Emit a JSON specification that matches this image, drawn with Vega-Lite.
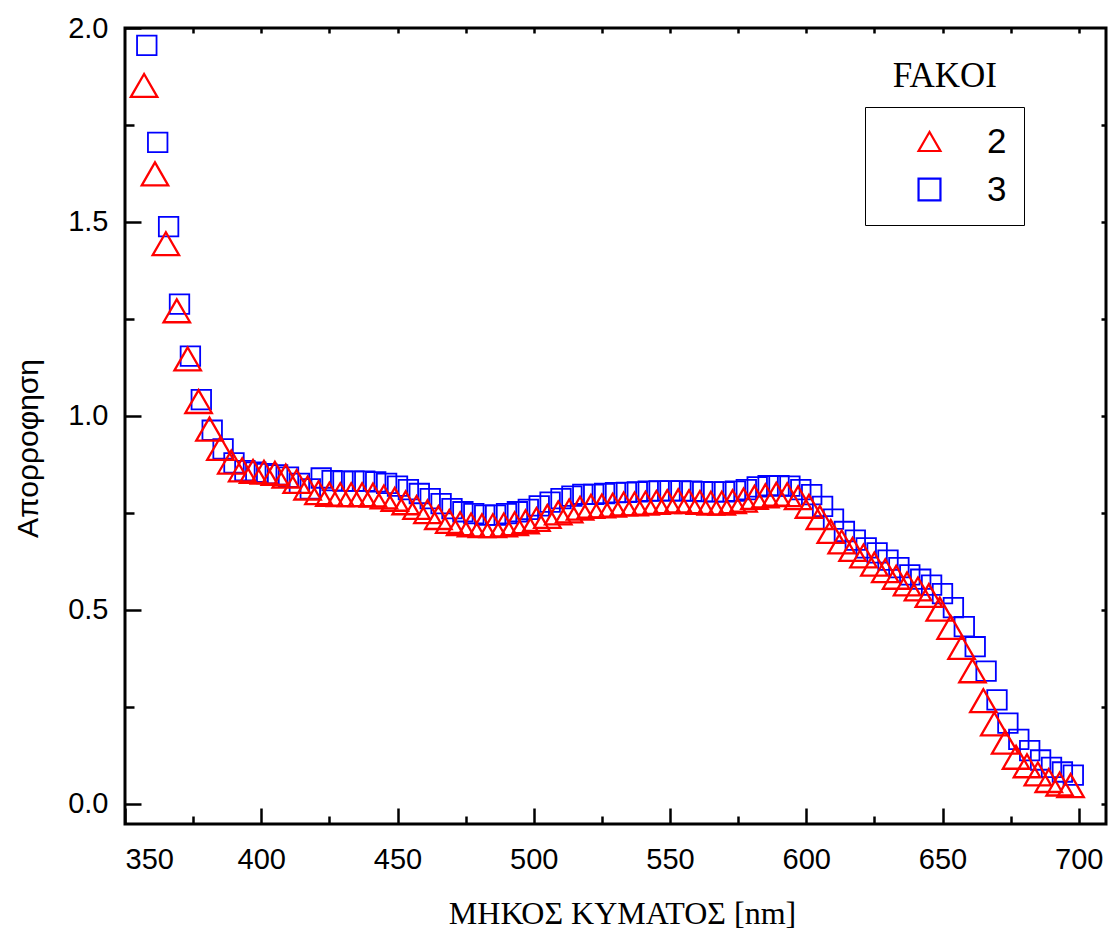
{
  "$schema": "https://vega.github.io/schema/vega-lite/v6.json",
  "width": 981,
  "height": 796,
  "autosize": {"type": "none"},
  "padding": {"left": 125, "top": 28, "right": 5, "bottom": 110},
  "background": "white",
  "title": {"text": "FAKOI", "anchor": "end", "frame": "group", "font": "Liberation Serif", "fontSize": 35, "fontWeight": "normal", "color": "black", "offset": 0, "baseline": "alphabetic", "dx": -109, "dy": 108},
  "config": {
    "view": {"stroke": "black", "strokeWidth": 3},
    "axis": {"domain": false, "grid": false, "tickColor": "black", "tickWidth": 2.5, "tickOpacity": 1, "labelColor": "black", "titleColor": "black"}
  },
  "data": {"values": [
    {"wl": 357, "abs": 1.852, "fakoi": "2"}, {"wl": 361, "abs": 1.624, "fakoi": "2"}, {"wl": 365, "abs": 1.444, "fakoi": "2"}, {"wl": 369, "abs": 1.271, "fakoi": "2"},
    {"wl": 373, "abs": 1.147, "fakoi": "2"}, {"wl": 377, "abs": 1.037, "fakoi": "2"}, {"wl": 381, "abs": 0.966, "fakoi": "2"}, {"wl": 385, "abs": 0.916, "fakoi": "2"},
    {"wl": 389, "abs": 0.881, "fakoi": "2"}, {"wl": 393, "abs": 0.861, "fakoi": "2"}, {"wl": 397, "abs": 0.857, "fakoi": "2"}, {"wl": 401, "abs": 0.855, "fakoi": "2"},
    {"wl": 405, "abs": 0.852, "fakoi": "2"}, {"wl": 409, "abs": 0.845, "fakoi": "2"}, {"wl": 413, "abs": 0.831, "fakoi": "2"}, {"wl": 417, "abs": 0.814, "fakoi": "2"},
    {"wl": 421, "abs": 0.802, "fakoi": "2"}, {"wl": 425, "abs": 0.798, "fakoi": "2"}, {"wl": 429, "abs": 0.797, "fakoi": "2"}, {"wl": 433, "abs": 0.797, "fakoi": "2"},
    {"wl": 437, "abs": 0.797, "fakoi": "2"}, {"wl": 441, "abs": 0.796, "fakoi": "2"}, {"wl": 445, "abs": 0.791, "fakoi": "2"}, {"wl": 449, "abs": 0.785, "fakoi": "2"},
    {"wl": 453, "abs": 0.776, "fakoi": "2"}, {"wl": 457, "abs": 0.764, "fakoi": "2"}, {"wl": 461, "abs": 0.753, "fakoi": "2"}, {"wl": 465, "abs": 0.738, "fakoi": "2"},
    {"wl": 469, "abs": 0.728, "fakoi": "2"}, {"wl": 473, "abs": 0.722, "fakoi": "2"}, {"wl": 477, "abs": 0.719, "fakoi": "2"}, {"wl": 481, "abs": 0.717, "fakoi": "2"},
    {"wl": 485, "abs": 0.717, "fakoi": "2"}, {"wl": 489, "abs": 0.719, "fakoi": "2"}, {"wl": 493, "abs": 0.722, "fakoi": "2"}, {"wl": 497, "abs": 0.727, "fakoi": "2"},
    {"wl": 501, "abs": 0.733, "fakoi": "2"}, {"wl": 505, "abs": 0.741, "fakoi": "2"}, {"wl": 509, "abs": 0.750, "fakoi": "2"}, {"wl": 513, "abs": 0.755, "fakoi": "2"},
    {"wl": 517, "abs": 0.762, "fakoi": "2"}, {"wl": 521, "abs": 0.767, "fakoi": "2"}, {"wl": 525, "abs": 0.768, "fakoi": "2"}, {"wl": 529, "abs": 0.770, "fakoi": "2"},
    {"wl": 533, "abs": 0.773, "fakoi": "2"}, {"wl": 537, "abs": 0.773, "fakoi": "2"}, {"wl": 541, "abs": 0.775, "fakoi": "2"}, {"wl": 545, "abs": 0.777, "fakoi": "2"},
    {"wl": 549, "abs": 0.779, "fakoi": "2"}, {"wl": 553, "abs": 0.781, "fakoi": "2"}, {"wl": 557, "abs": 0.779, "fakoi": "2"}, {"wl": 561, "abs": 0.777, "fakoi": "2"},
    {"wl": 565, "abs": 0.775, "fakoi": "2"}, {"wl": 569, "abs": 0.775, "fakoi": "2"}, {"wl": 573, "abs": 0.779, "fakoi": "2"}, {"wl": 577, "abs": 0.783, "fakoi": "2"},
    {"wl": 581, "abs": 0.790, "fakoi": "2"}, {"wl": 585, "abs": 0.794, "fakoi": "2"}, {"wl": 589, "abs": 0.798, "fakoi": "2"}, {"wl": 593, "abs": 0.797, "fakoi": "2"},
    {"wl": 597, "abs": 0.789, "fakoi": "2"}, {"wl": 601, "abs": 0.767, "fakoi": "2"}, {"wl": 605, "abs": 0.738, "fakoi": "2"}, {"wl": 609, "abs": 0.702, "fakoi": "2"},
    {"wl": 613, "abs": 0.675, "fakoi": "2"}, {"wl": 617, "abs": 0.656, "fakoi": "2"}, {"wl": 621, "abs": 0.639, "fakoi": "2"}, {"wl": 625, "abs": 0.618, "fakoi": "2"},
    {"wl": 629, "abs": 0.601, "fakoi": "2"}, {"wl": 633, "abs": 0.584, "fakoi": "2"}, {"wl": 637, "abs": 0.567, "fakoi": "2"}, {"wl": 641, "abs": 0.554, "fakoi": "2"},
    {"wl": 645, "abs": 0.537, "fakoi": "2"}, {"wl": 649, "abs": 0.502, "fakoi": "2"}, {"wl": 653, "abs": 0.455, "fakoi": "2"}, {"wl": 657, "abs": 0.403, "fakoi": "2"},
    {"wl": 661, "abs": 0.343, "fakoi": "2"}, {"wl": 665, "abs": 0.266, "fakoi": "2"}, {"wl": 669, "abs": 0.206, "fakoi": "2"}, {"wl": 673, "abs": 0.159, "fakoi": "2"},
    {"wl": 677, "abs": 0.120, "fakoi": "2"}, {"wl": 681, "abs": 0.098, "fakoi": "2"}, {"wl": 685, "abs": 0.077, "fakoi": "2"}, {"wl": 689, "abs": 0.060, "fakoi": "2"},
    {"wl": 693, "abs": 0.051, "fakoi": "2"}, {"wl": 697, "abs": 0.047, "fakoi": "2"},
    {"wl": 358, "abs": 1.955, "fakoi": "3"}, {"wl": 362, "abs": 1.705, "fakoi": "3"}, {"wl": 366, "abs": 1.488, "fakoi": "3"}, {"wl": 370, "abs": 1.288, "fakoi": "3"},
    {"wl": 374, "abs": 1.154, "fakoi": "3"}, {"wl": 378, "abs": 1.042, "fakoi": "3"}, {"wl": 382, "abs": 0.963, "fakoi": "3"}, {"wl": 386, "abs": 0.915, "fakoi": "3"},
    {"wl": 390, "abs": 0.879, "fakoi": "3"}, {"wl": 394, "abs": 0.859, "fakoi": "3"}, {"wl": 398, "abs": 0.855, "fakoi": "3"}, {"wl": 402, "abs": 0.851, "fakoi": "3"},
    {"wl": 406, "abs": 0.848, "fakoi": "3"}, {"wl": 410, "abs": 0.842, "fakoi": "3"}, {"wl": 414, "abs": 0.826, "fakoi": "3"}, {"wl": 418, "abs": 0.812, "fakoi": "3"},
    {"wl": 422, "abs": 0.840, "fakoi": "3"}, {"wl": 426, "abs": 0.833, "fakoi": "3"}, {"wl": 430, "abs": 0.832, "fakoi": "3"}, {"wl": 434, "abs": 0.832, "fakoi": "3"},
    {"wl": 438, "abs": 0.832, "fakoi": "3"}, {"wl": 442, "abs": 0.830, "fakoi": "3"}, {"wl": 446, "abs": 0.826, "fakoi": "3"}, {"wl": 450, "abs": 0.819, "fakoi": "3"},
    {"wl": 454, "abs": 0.810, "fakoi": "3"}, {"wl": 458, "abs": 0.800, "fakoi": "3"}, {"wl": 462, "abs": 0.787, "fakoi": "3"}, {"wl": 466, "abs": 0.774, "fakoi": "3"},
    {"wl": 470, "abs": 0.761, "fakoi": "3"}, {"wl": 474, "abs": 0.753, "fakoi": "3"}, {"wl": 478, "abs": 0.748, "fakoi": "3"}, {"wl": 482, "abs": 0.744, "fakoi": "3"},
    {"wl": 486, "abs": 0.744, "fakoi": "3"}, {"wl": 490, "abs": 0.748, "fakoi": "3"}, {"wl": 494, "abs": 0.753, "fakoi": "3"}, {"wl": 498, "abs": 0.759, "fakoi": "3"},
    {"wl": 502, "abs": 0.768, "fakoi": "3"}, {"wl": 506, "abs": 0.778, "fakoi": "3"}, {"wl": 510, "abs": 0.787, "fakoi": "3"}, {"wl": 514, "abs": 0.793, "fakoi": "3"},
    {"wl": 518, "abs": 0.798, "fakoi": "3"}, {"wl": 522, "abs": 0.798, "fakoi": "3"}, {"wl": 526, "abs": 0.800, "fakoi": "3"}, {"wl": 530, "abs": 0.802, "fakoi": "3"},
    {"wl": 534, "abs": 0.803, "fakoi": "3"}, {"wl": 538, "abs": 0.804, "fakoi": "3"}, {"wl": 542, "abs": 0.806, "fakoi": "3"}, {"wl": 546, "abs": 0.807, "fakoi": "3"},
    {"wl": 550, "abs": 0.807, "fakoi": "3"}, {"wl": 554, "abs": 0.807, "fakoi": "3"}, {"wl": 558, "abs": 0.806, "fakoi": "3"}, {"wl": 562, "abs": 0.805, "fakoi": "3"},
    {"wl": 566, "abs": 0.804, "fakoi": "3"}, {"wl": 570, "abs": 0.804, "fakoi": "3"}, {"wl": 574, "abs": 0.806, "fakoi": "3"}, {"wl": 578, "abs": 0.810, "fakoi": "3"},
    {"wl": 582, "abs": 0.817, "fakoi": "3"}, {"wl": 586, "abs": 0.820, "fakoi": "3"}, {"wl": 590, "abs": 0.820, "fakoi": "3"}, {"wl": 594, "abs": 0.819, "fakoi": "3"},
    {"wl": 598, "abs": 0.810, "fakoi": "3"}, {"wl": 602, "abs": 0.797, "fakoi": "3"}, {"wl": 606, "abs": 0.767, "fakoi": "3"}, {"wl": 610, "abs": 0.734, "fakoi": "3"},
    {"wl": 614, "abs": 0.702, "fakoi": "3"}, {"wl": 618, "abs": 0.680, "fakoi": "3"}, {"wl": 622, "abs": 0.660, "fakoi": "3"}, {"wl": 626, "abs": 0.647, "fakoi": "3"},
    {"wl": 630, "abs": 0.628, "fakoi": "3"}, {"wl": 634, "abs": 0.609, "fakoi": "3"}, {"wl": 638, "abs": 0.590, "fakoi": "3"}, {"wl": 642, "abs": 0.579, "fakoi": "3"},
    {"wl": 646, "abs": 0.564, "fakoi": "3"}, {"wl": 650, "abs": 0.542, "fakoi": "3"}, {"wl": 654, "abs": 0.506, "fakoi": "3"}, {"wl": 658, "abs": 0.457, "fakoi": "3"},
    {"wl": 662, "abs": 0.405, "fakoi": "3"}, {"wl": 666, "abs": 0.342, "fakoi": "3"}, {"wl": 670, "abs": 0.268, "fakoi": "3"}, {"wl": 674, "abs": 0.208, "fakoi": "3"},
    {"wl": 678, "abs": 0.166, "fakoi": "3"}, {"wl": 682, "abs": 0.137, "fakoi": "3"}, {"wl": 686, "abs": 0.113, "fakoi": "3"}, {"wl": 690, "abs": 0.094, "fakoi": "3"},
    {"wl": 694, "abs": 0.082, "fakoi": "3"}, {"wl": 698, "abs": 0.074, "fakoi": "3"}
  ]},
  "resolve": {"axis": {"x": "independent", "y": "independent"}},
  "layer": [
    {
      "mark": {"type": "point", "opacity": 0},
      "encoding": {
        "x": {"field": "wl", "type": "quantitative", "scale": {"domain": [350, 710], "nice": false, "zero": false},
              "axis": {"orient": "bottom", "offset": -16, "zindex": 1, "ticks": true, "values": [350, 400, 450, 500, 550, 600, 650, 700], "tickSize": 16, "tickColor": "black", "labels": false, "title": null}},
        "y": {"field": "abs", "type": "quantitative", "scale": {"domain": [-0.052, 2.0], "nice": false, "zero": false},
              "axis": {"orient": "left", "offset": -16, "zindex": 1, "ticks": true, "values": [0, 0.5, 1, 1.5, 2], "tickSize": 16, "tickColor": "black", "labels": false, "title": null}}
      }
    },
    {
      "transform": [{"filter": "datum.fakoi == '3'"}],
      "mark": {"type": "point", "filled": false, "strokeWidth": 1.8, "opacity": 1, "size": 380},
      "encoding": {
        "x": {"field": "wl", "type": "quantitative", "scale": {"domain": [350, 710], "nice": false, "zero": false},
              "axis": {"orient": "bottom", "offset": -8, "zindex": 1, "ticks": true, "values": [375, 425, 475, 525, 575, 625, 675], "tickSize": 8, "tickColor": "black", "labels": false, "title": null}},
        "y": {"field": "abs", "type": "quantitative", "scale": {"domain": [-0.052, 2.0], "nice": false, "zero": false},
              "axis": {"orient": "left", "offset": -9, "zindex": 1, "ticks": true, "values": [0.25, 0.75, 1.25, 1.75], "tickSize": 9, "tickColor": "black", "labels": false, "title": null}},
        "color": {"field": "fakoi", "type": "nominal", "scale": {"domain": ["2", "3"], "range": ["#ff0000", "#0000ff"]},
                  "legend": {"orient": "none", "legendX": 740, "legendY": 79, "title": null, "strokeColor": "black", "padding": 17, "rowPadding": 12, "symbolOffset": 30, "labelOffset": 40, "labelFont": "Liberation Sans", "labelFontSize": 35, "labelColor": "black", "symbolStrokeWidth": 2.2, "symbolSize": 480}},
        "shape": {"field": "fakoi", "type": "nominal", "scale": {"domain": ["2", "3"], "range": ["triangle-up", "square"]}}
      }
    },
    {
      "transform": [{"filter": "datum.fakoi == '2'"}],
      "mark": {"type": "point", "filled": false, "strokeWidth": 2.3, "opacity": 1, "size": 700},
      "encoding": {
        "x": {"field": "wl", "type": "quantitative", "scale": {"domain": [350, 710], "nice": false, "zero": false},
              "axis": {"orient": "bottom", "values": [350, 400, 450, 500, 550, 600, 650, 700], "ticks": false, "labelPadding": 21, "labelFont": "Liberation Sans", "labelFontSize": 29,
                       "title": "ΜΗΚΟΣ ΚΥΜΑΤΟΣ [nm]", "titleFont": "Liberation Serif", "titleFontSize": 32, "titleFontWeight": "normal", "titleX": 497, "titleY": 99, "titleBaseline": "alphabetic", "titleAlign": "center"}},
        "y": {"field": "abs", "type": "quantitative", "scale": {"domain": [-0.052, 2.0], "nice": false, "zero": false},
              "axis": {"orient": "left", "values": [0, 0.5, 1, 1.5, 2], "format": ".1f", "ticks": false, "labelPadding": 17, "labelFont": "Liberation Sans", "labelFontSize": 29,
                       "title": "Απορροφηση", "titleFont": "Liberation Sans", "titleFontSize": 30, "titleFontWeight": "normal", "titleX": -97, "titleY": 420, "titleAngle": -90, "titleAlign": "center", "titleBaseline": "middle"}},
        "color": {"field": "fakoi", "type": "nominal", "scale": {"domain": ["2", "3"], "range": ["#ff0000", "#0000ff"]}},
        "shape": {"field": "fakoi", "type": "nominal", "scale": {"domain": ["2", "3"], "range": ["triangle-up", "square"]}}
      }
    },
    {
      "mark": {"type": "point", "opacity": 0},
      "encoding": {
        "x": {"field": "wl", "type": "quantitative", "scale": {"domain": [350, 710], "nice": false, "zero": false},
              "axis": {"orient": "top", "offset": -5, "zindex": 1, "ticks": true, "values": [375, 400, 425, 450, 475, 500, 525, 550, 575, 600, 625, 650, 675, 700], "tickSize": 5, "tickColor": "black", "labels": false, "title": null}},
        "y": {"field": "abs", "type": "quantitative", "scale": {"domain": [-0.052, 2.0], "nice": false, "zero": false},
              "axis": {"orient": "right", "offset": -5, "zindex": 1, "ticks": true, "values": [0, 0.25, 0.5, 0.75, 1, 1.25, 1.5, 1.75], "tickSize": 5, "tickColor": "black", "labels": false, "title": null}}
      }
    }
  ]
}
